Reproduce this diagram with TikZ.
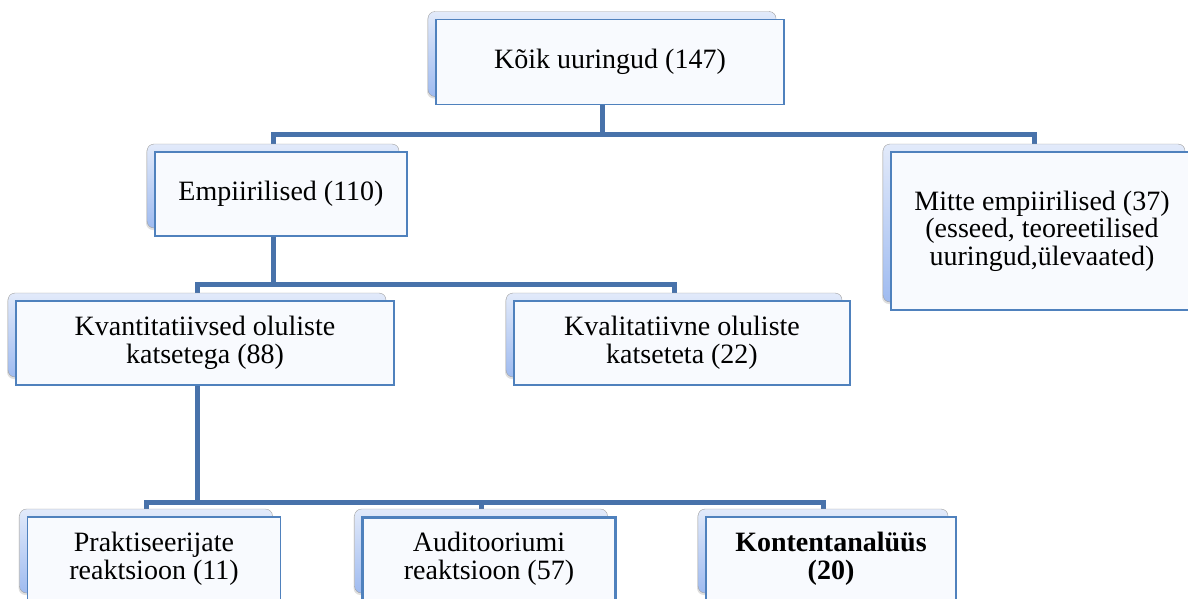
\documentclass[tikz,border=0pt]{standalone}
\usepackage{fontspec}
\setmainfont{Liberation Serif}
\usetikzlibrary{backgrounds,shadows}
\definecolor{lnk}{HTML}{4872AA}
\definecolor{frm}{HTML}{4F81BD}
\definecolor{pale}{HTML}{F8FAFE}
\definecolor{shtop}{HTML}{E2EAFA}
\definecolor{shbot}{HTML}{9FBBF0}
\tikzset{
  backbox/.style={draw=gray!75,rounded corners=7pt,top color=shtop,bottom color=shbot,
    drop shadow={opacity=.25,shadow xshift=-1pt,shadow yshift=-2pt}},
  frontbox/.style={draw=frm,line width=1.5pt,fill=pale,align=center,inner sep=4pt},
  conn/.style={draw=lnk,line width=5pt},
  boldtxt/.style={font={\fontsize{28}{27.5}\selectfont\bfseries}},
}
% back card + front card, #3/#4 = centre of the back card
\newcommand{\twobox}[7][]{%
  \node[backbox,minimum width=#5pt,minimum height=#6pt] (#2B) at (#3,#4) {};
  \node[frontbox,minimum width=#5pt,minimum height=#6pt,#1] (#2) at (#3+8,#4+8) {#7};
}

\begin{document}
\begin{tikzpicture}[x=1pt,y=-1pt,font={\fontsize{28}{27.5}\selectfont}]
\useasboundingbox (0,0) rectangle (1188,598);
\clip (0,0) rectangle (1188,598);
\twobox{koik}{602}{54}{348}{85}{Kõik uuringud (147)}
\twobox{emp}{273}{186}{252}{84}{Empiirilised (110)}
\twobox{mitte}{1034}{223}{302}{158}{Mitte empiirilised (37)\\(esseed, teoreetilised\\uuringud,ülevaated)}
\twobox{kvant}{197}{335}{378}{84}{Kvantitatiivsed oluliste\\katsetega (88)}
\twobox{kval}{674}{335}{336}{84}{Kvalitatiivne oluliste\\katseteta (22)}
\twobox{prak}{146}{551}{253}{84}{Praktiseerijate\\reaktsioon (11)}
\twobox[line width=3pt]{audit}{481}{551}{253}{84}{Auditooriumi\\reaktsioon (57)}
\twobox[boldtxt]{kont}{823}{551}{250}{84}{Kontentanalüüs\\(20)}
\coordinate (bus1) at (602,134);
\coordinate (bus2) at (273,284);
\coordinate (bus3) at (197,502);
\begin{scope}[on background layer]
\draw[conn] (koikB.center) -- (bus1);
\draw[conn] (empB) |- (bus1) -| (mitteB);
\draw[conn] (empB.center) -- (bus2);
\draw[conn] (kvantB) |- (bus2) -| (kvalB);
\draw[conn] (kvantB.center) -- (bus3);
\draw[conn] (prakB) |- (bus3) -| (kontB);
\draw[conn] (auditB) -- (auditB |- bus3);
\end{scope}
\end{tikzpicture}
\end{document}
